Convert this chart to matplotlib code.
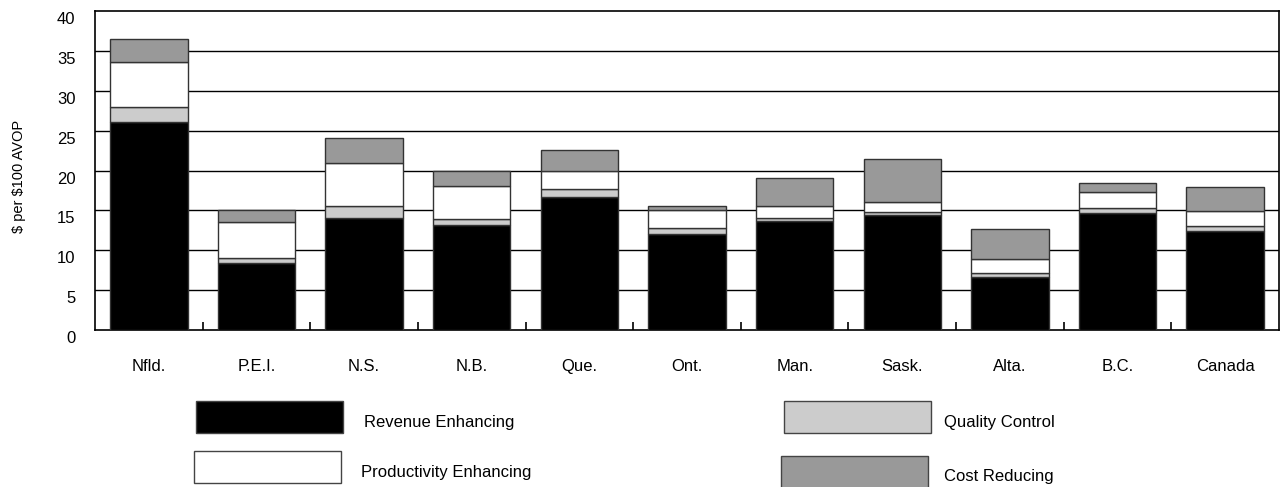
import matplotlib
matplotlib.use('Agg')
import matplotlib.pyplot as plt
import matplotlib.transforms as mtransforms
from matplotlib.patches import Rectangle
import numpy as np

plt.rcParams['font.family'] = ['Liberation Sans', 'DejaVu Sans']

# $ per $100 AVOP
regions = ['Nfld.', 'P.E.I.', 'N.S.', 'N.B.', 'Que.', 'Ont.', 'Man.',
           'Sask.', 'Alta.', 'B.C.', 'Canada']
revenue = [26.1, 8.4, 14.0, 13.2, 16.7, 12.1, 13.7, 14.4, 6.7, 14.7, 12.4]
quality = [1.8, 0.6, 1.6, 0.7, 1.0, 0.7, 0.4, 0.4, 0.4, 0.6, 0.6]
productivity = [5.7, 4.6, 5.3, 4.1, 2.2, 2.2, 1.5, 1.2, 1.8, 2.0, 1.9]
cost = [2.9, 1.4, 3.2, 1.9, 2.7, 0.5, 3.4, 5.4, 3.8, 1.1, 3.0]

series = [('Revenue Enhancing', revenue, '#000000'),
          ('Quality Control', quality, '#cccccc'),
          ('Productivity Enhancing', productivity, '#ffffff'),
          ('Cost Reducing', cost, '#999999')]

fig = plt.figure(figsize=(12.8, 4.87), dpi=100)
ax = fig.add_axes([95/1280, 1-330/487, 1184/1280, 319/487])

x = np.arange(len(regions))
bottom = np.zeros(len(regions))
for name, vals, col in series:
    ax.bar(x, vals, width=0.72, bottom=bottom, color=col,
           edgecolor='#333333', linewidth=1.0, zorder=3)
    bottom += np.array(vals)

ax.set_xlim(-0.5, len(regions) - 0.5)
ax.set_ylim(0, 40)
ax.set_yticks(range(0, 41, 5))
for v in range(5, 40, 5):
    ax.axhline(v, color='black', linewidth=1.0, zorder=1)

for s in ax.spines.values():
    s.set_linewidth(1.2)
    s.set_color('black')

# boundary ticks inside, labels on the centres
ax.set_xticks(x[:-1] + 0.5)
ax.set_xticklabels([])
ax.tick_params(axis='x', which='major', direction='in', length=6, width=1.2)
ax.set_xticks(x, minor=True)
ax.set_xticklabels(regions, minor=True, fontsize=12)
ax.tick_params(axis='x', which='minor', length=0, pad=21)

ax.tick_params(axis='y', length=0, pad=14, labelsize=12)
off = mtransforms.ScaledTranslation(0, -7/100, fig.dpi_scale_trans)
for lab in ax.get_yticklabels():
    lab.set_transform(lab.get_transform() + off)

ax.set_ylabel(r'\$ per \$100 AVOP', fontsize=10.5,
              family=['Liberation Sans Narrow', 'Liberation Sans'])
ax.yaxis.set_label_coords(-0.058, 0.48)

# legend drawn by hand, 2 x 2
boxes = [('Revenue Enhancing', '#000000', 196, 401, 364, 423),
         ('Productivity Enhancing', '#ffffff', 194, 451, 361, 472),
         ('Quality Control', '#cccccc', 784, 401, 944, 422),
         ('Cost Reducing', '#999999', 781, 456, 944, 476)]
for name, col, bx, by, tx, ty in boxes:
    fig.patches.append(Rectangle((bx/1280, 1-(by+32)/487), 147/1280, 32/487,
                                 transform=fig.transFigure, facecolor=col,
                                 edgecolor='#444444', linewidth=1.0))
    fig.text(tx/1280, 1-ty/487, name, fontsize=12, va='center', ha='left')

fig.savefig('out.png', dpi=100)
